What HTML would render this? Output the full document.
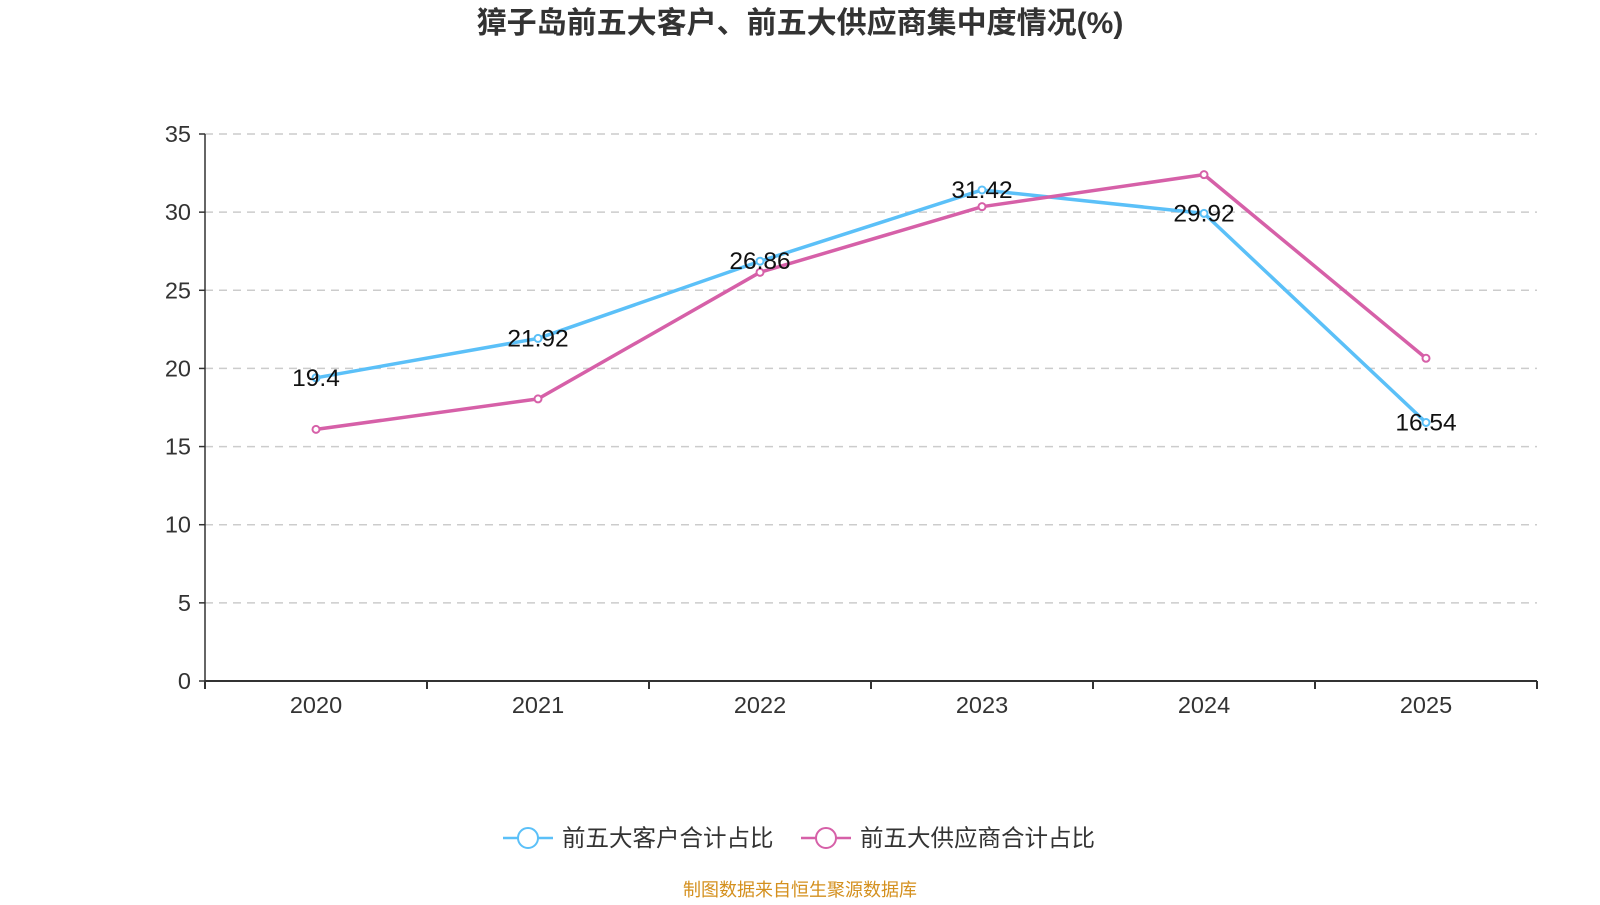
<!DOCTYPE html>
<html><head><meta charset="utf-8"><style>
body{margin:0;background:#fff;font-family:"Liberation Sans","Noto Sans CJK SC",sans-serif}
</style></head><body>
<svg id="c" width="1600" height="900" xmlns="http://www.w3.org/2000/svg" style="font-family:'Liberation Sans','Noto Sans CJK SC',sans-serif">
<text x="800" y="33" text-anchor="middle" font-size="30" font-weight="bold" fill="#333">獐子岛前五大客户、前五大供应商集中度情况(%)</text>
<g id="grid"></g><g id="axes"></g><g id="series"></g>
<g>
<g>
<line x1="503" y1="838" x2="553" y2="838" stroke="#5bc0f8" stroke-width="2.5"/><circle cx="528" cy="838" r="10" fill="#fff" stroke="#5bc0f8" stroke-width="2"/>
<text x="562" y="846" font-size="23.5" fill="#333">前五大客户合计占比</text></g>
<g>
<line x1="801" y1="838" x2="851" y2="838" stroke="#d660a8" stroke-width="2.5"/><circle cx="826" cy="838" r="10" fill="#fff" stroke="#d660a8" stroke-width="2"/>
<text x="860" y="846" font-size="23.5" fill="#333">前五大供应商合计占比</text></g>
</g>
<text x="800" y="896" text-anchor="middle" font-size="18" fill="#d4901e">制图数据来自恒生聚源数据库</text>
</svg>
<script>
const categories=["2020","2021","2022","2023","2024","2025"];
const customers=[19.4,21.92,26.86,31.42,29.92,16.54];
const suppliers=[16.1,18.05,26.15,30.35,32.4,20.65];
const yTicks=[0,5,10,15,20,25,30,35];
const NS="http://www.w3.org/2000/svg";
const L=205,R=1537,T=134,B=681,yMax=35;
const bw=(R-L)/categories.length;
const xs=i=>L+bw*(i+0.5);
const ys=v=>B-(v/yMax)*(B-T);
function mk(tag,attrs,parent,text){const e=document.createElementNS(NS,tag);for(const k in attrs)e.setAttribute(k,attrs[k]);if(text!==undefined)e.textContent=text;document.getElementById(parent).appendChild(e);return e;}
yTicks.forEach(t=>{
 if(t>0){const g=mk('line',{x1:L,x2:R,y1:ys(t),y2:ys(t),stroke:'#ccc','stroke-width':1.5,'stroke-dasharray':'8,6'},'grid');
 
 }
 const tk=mk('line',{x1:L-6,x2:L,y1:ys(t),y2:ys(t),stroke:'#333','stroke-width':1.5},'axes');
 
 
 const lb=mk('text',{x:L-14,y:ys(t)+8,'text-anchor':'end','font-size':23.5,fill:'#333'},'axes',t);
 
 
});
const ya=mk('line',{x1:L,x2:L,y1:T,y2:B,stroke:'#333','stroke-width':1.5},'axes');


const xa=mk('line',{x1:L,x2:R,y1:B,y2:B,stroke:'#333','stroke-width':2},'axes');


for(let i=0;i<=categories.length;i++){const t=mk('line',{x1:L+bw*i,x2:L+bw*i,y1:B,y2:B+8,stroke:'#333','stroke-width':2},'axes');
 
 }
categories.forEach((c,i)=>{const t=mk('text',{x:xs(i),y:B+32,'text-anchor':'middle','font-size':23.5,fill:'#333'},'axes',c);
 
 });
function series(vals,color,name){
 const p=mk('polyline',{points:vals.map((v,i)=>xs(i)+','+ys(v)).join(' '),fill:'none',stroke:color,'stroke-width':3.5,'stroke-linejoin':'round'},'series');
 
 
 vals.forEach((v,i)=>{const c=mk('circle',{cx:xs(i),cy:ys(v),r:3.5,fill:'#fff',stroke:color,'stroke-width':2},'series');
  
  });
}
series(customers,'#5bc0f8','customers');
series(suppliers,'#d660a8','suppliers');
customers.forEach((v,i)=>{const t=mk('text',{x:xs(i),y:ys(v)+8,'text-anchor':'middle','font-size':24.5,fill:'#111'},'series',String(v));
 
 });
</script>
</body></html>
